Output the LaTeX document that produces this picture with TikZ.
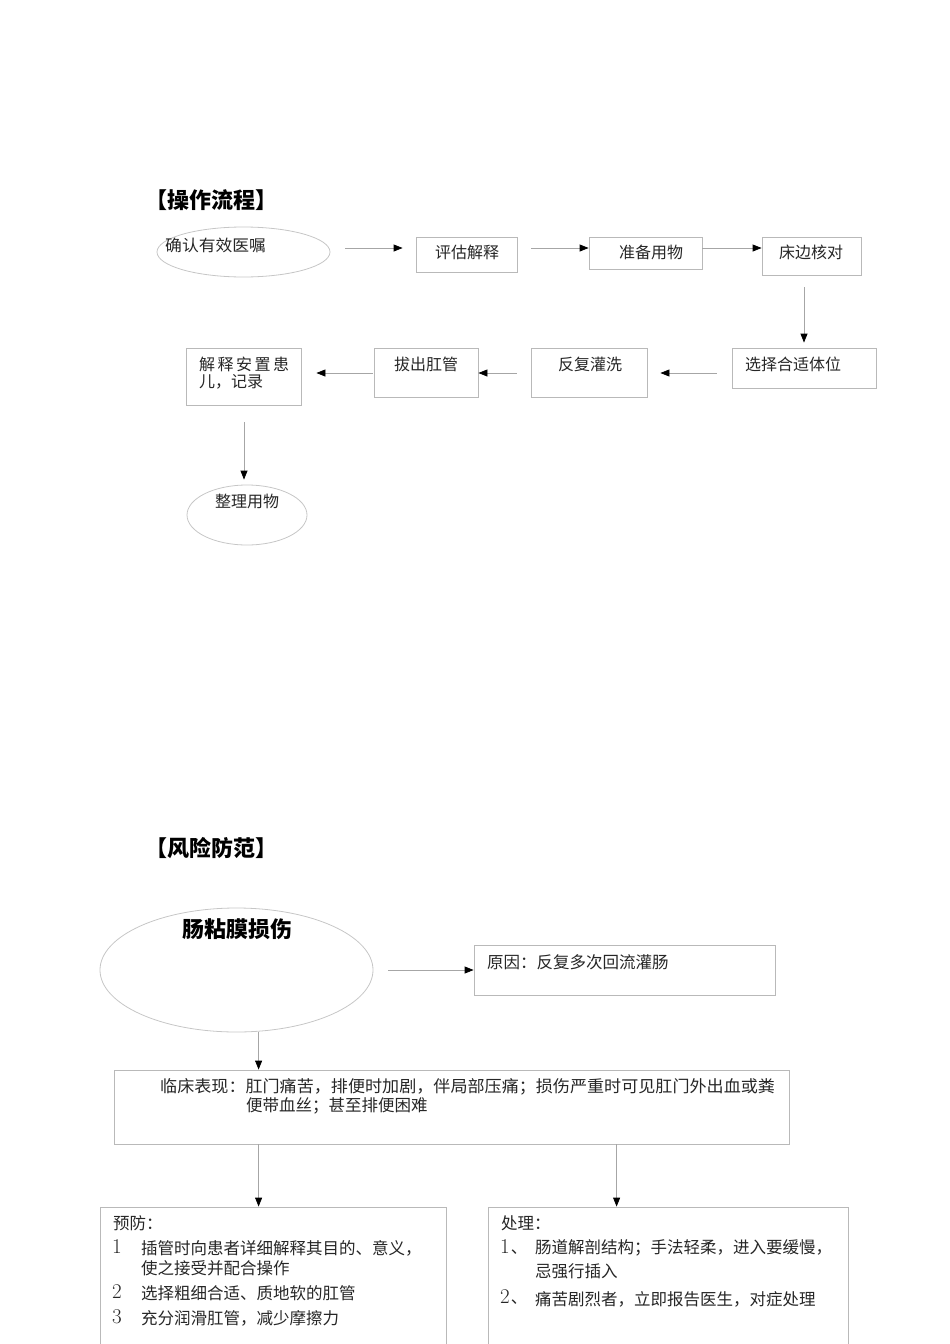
\documentclass[tikz,border=0pt]{standalone}
\usepackage{fontspec}
\newfontfamily\cjk{Noto Sans CJK SC}
\usetikzlibrary{arrows.meta,shapes.geometric,calc}
\tikzset{
 box/.style={draw=gray!55, line width=0.8pt, rectangle, inner sep=0pt},
 oval/.style={draw=gray!45, line width=0.8pt, ellipse, inner sep=0pt},
 arr/.style={draw=gray!70, line width=0.8pt, -{Triangle[length=9pt,width=7pt,black]}},
 txt/.style={font=\cjk\fontsize{16}{18}\selectfont, inner sep=0pt, text=black!85},
 btxt/.style={font=\cjk\fontsize{16.5}{19}\selectfont, inner sep=0pt, text=black!85},
 num/.style={font=\fontsize{21}{24}\selectfont, inner sep=0pt, text=black!85},
 ttl/.style={font=\cjk\bfseries\fontsize{22}{24}\selectfont, inner sep=0pt, text=black},
}
\begin{document}
\begin{tikzpicture}[x=1pt,y=-1pt]
\useasboundingbox (0,0) rectangle (950,1344);
% ---------- section 1
\node[ttl, anchor=west] (t1) at (145,200) {【操作流程】};
\node[oval, minimum width=173pt, minimum height=50pt] (e1) at (243.5,252) {};
\node[txt, anchor=west] (e1t) at (165,245) {\scalebox{1.05}[1]{确认有效医嘱}};
\node[box, minimum width=101pt, minimum height=35pt] (b2) at (466.5,254.5) {};
\node[txt] (b2t) at (467,252) {评估解释};
\node[box, minimum width=113pt, minimum height=32pt] (b3) at (645.5,253) {};
\node[txt] (b3t) at (651,252) {准备用物};
\node[box, minimum width=99pt, minimum height=38pt] (b4) at (811.5,256) {};
\node[txt] (b4t) at (811,252) {床边核对};
\node[box, minimum width=144pt, minimum height=40pt] (b5) at (804,368) {};
\node[txt, anchor=west] (b5t) at (745,364) {选择合适体位};
\node[box, minimum width=116pt, minimum height=49pt] (b6) at (589,372.5) {};
\node[txt] (b6t) at (590,364) {反复灌洗};
\node[box, minimum width=104pt, minimum height=49pt] (b7) at (426,372.5) {};
\node[txt] (b7t) at (426,364) {拔出肛管};
\node[box, minimum width=115pt, minimum height=57pt] (b8) at (243.5,376.5) {};
\node[txt, anchor=west] (b8t1) at (199,364) {解\hspace{2.5pt}释\hspace{2.5pt}安\hspace{2.5pt}置\hspace{2.5pt}患};
\node[txt, anchor=west] (b8t2) at (199,382) {儿，记录};
\node[oval, minimum width=120pt, minimum height=60pt] (e9) at (247,515) {};
\node[txt] (e9t) at (247,501) {整理用物};

\draw[arr] ($(e1.east)+(15,-4)$) -- ($(b2.west)+(-13,-6.5)$);
\draw[arr] ($(b2.east)+(14,-6.5)$) -- ($(b3.west)+(0,-5)$);
\draw[arr] ($(b3.east)+(0,-5)$) -- ($(b4.west)+(0,-8)$);
\draw[arr] ($(b4.south)+(-7.5,12)$) -- ($(b5.north)+(0,-5)$);
\draw[arr] ($(b5.west)+(-15,5)$) -- ($(b6.east)+(13,0.5)$);
\draw[arr] ($(b6.west)+(-14,0.5)$) -- ($(b7.east)+(0,0.5)$);
\draw[arr] ($(b7.west)+(-1,0.5)$) -- ($(b8.east)+(15,-3.5)$);
\draw[arr] ($(b8.south)+(0.5,17)$) -- ($(e9.north)+(-3,-5)$);

% ---------- section 2
\node[ttl, anchor=west] (t2) at (145,848) {【风险防范】};
\node[oval, minimum width=273pt, minimum height=124pt] (e10) at (236.5,970) {};
\node[font=\cjk\bfseries\fontsize{22}{24}\selectfont, inner sep=0pt] (e10t) at (237,929) {肠粘膜损伤};
\node[box, minimum width=301pt, minimum height=50pt] (b11) at (624.5,970) {};
\node[btxt, anchor=west] (b11t) at (487,962) {原因：反复多次回流灌肠};
\node[box, minimum width=675pt, minimum height=74pt] (b12) at (451.5,1107) {};
\node[btxt, anchor=west] (b12t1) at (160,1087) {\scalebox{1.035}[1]{临床表现：肛门痛苦，排便时加剧，伴局部压痛；损伤严重时可见肛门外出血或粪}};
\node[btxt, anchor=west] (b12t2) at (246,1106) {便带血丝；甚至排便困难};
\node[box, minimum width=346pt, minimum height=160pt] (b13) at (273,1287) {};
\node[box, minimum width=360pt, minimum height=160pt] (b14) at (668,1287) {};
\coordinate (d1) at ($(b12.north west)+(145,0)$);

\draw[arr] ($(e10.east)+(15,0)$) -- (b11.west);
\draw[arr] (d1 |- e10.south) -- (d1);
\draw[arr] ($(b12.south west)+(145,0)$) -- ($(b13.north west)+(159,0)$);
\draw[arr] ($(b12.south west)+(503,0)$) -- ($(b14.north west)+(129,0)$);

\node[btxt, anchor=west] (p0) at (113,1223) {预防：};
\node[num, anchor=west] (p1n) at (112,1247) {1};
\node[btxt, anchor=west] (p1a) at (141,1248) {插管时向患者详细解释其目的、意义，};
\node[btxt, anchor=west] (p1b) at (141,1268) {使之接受并配合操作};
\node[num, anchor=west] (p2n) at (112,1292) {2};
\node[btxt, anchor=west] (p2) at (141,1293) {选择粗细合适、质地软的肛管};
\node[num, anchor=west] (p3n) at (112,1317) {3};
\node[btxt, anchor=west] (p3) at (141,1318) {充分润滑肛管，减少摩擦力};

\node[btxt, anchor=west] (c0) at (501,1223) {处理：};
\node[num, anchor=west] (c1n) at (500,1247) {1\hspace{1pt}{\cjk\fontsize{16.5}{19}\selectfont 、}};
\node[btxt, anchor=west] (c1a) at (535,1248) {肠道解剖结构；手法轻柔，进入要缓慢，};
\node[btxt, anchor=west] (c1b) at (535,1271) {忌强行插入};
\node[num, anchor=west] (c2n) at (500,1297) {2\hspace{1pt}{\cjk\fontsize{16.5}{19}\selectfont 、}};
\node[btxt, anchor=west] (c2) at (535,1299) {痛苦剧烈者，立即报告医生，对症处理};
\end{tikzpicture}
\end{document}
